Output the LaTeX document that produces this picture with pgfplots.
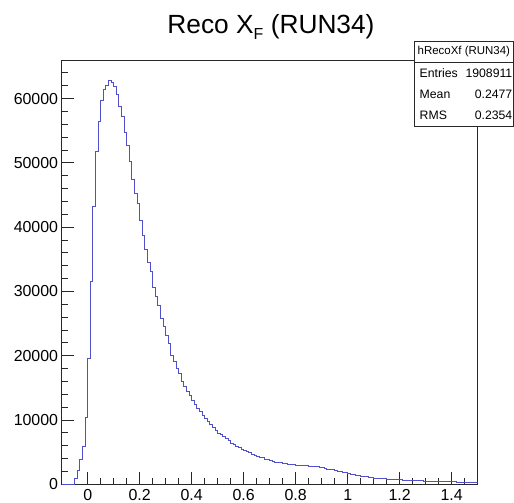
\documentclass[border=0pt]{standalone}
\usepackage{pgfplots}
\pgfplotsset{compat=1.18}
\usepackage{pgfplotstable}
\usepackage{fontspec}
\setmainfont{Liberation Sans}
\definecolor{histblue}{RGB}{80,80,205}
\definecolor{axgray}{RGB}{40,40,40}

\pgfplotstableread{
x y
-0.10 0
-0.09 0
-0.08 0
-0.07 0
-0.06 0
-0.05 900
-0.04 2100
-0.03 3900
-0.02 5950
-0.01 10450
0.00 19570
0.01 31570
0.02 43220
0.03 51760
0.04 56420
0.05 59680
0.06 61440
0.07 62110
0.08 62890
0.09 62470
0.10 61960
0.11 60710
0.12 58850
0.13 57190
0.14 54700
0.15 52640
0.16 50200
0.17 47450
0.18 45190
0.19 43740
0.20 41100
0.21 38710
0.22 36600
0.23 34580
0.24 33120
0.25 30700
0.26 29190
0.27 27800
0.28 25730
0.29 24490
0.30 23140
0.31 21850
0.32 20000
0.33 19070
0.34 18040
0.35 17260
0.36 16070
0.37 15180
0.38 14510
0.39 13780
0.40 13000
0.41 12380
0.42 11820
0.43 11350
0.44 10780
0.45 10200
0.46 9740
0.47 9330
0.48 8910
0.49 8440
0.50 7980
0.51 7710
0.52 7460
0.53 7090
0.54 6780
0.55 6420
0.56 6160
0.57 5960
0.58 5690
0.59 5450
0.60 5250
0.61 5070
0.62 4950
0.63 4710
0.64 4560
0.65 4400
0.66 4220
0.67 4120
0.68 3930
0.69 3800
0.70 3680
0.71 3600
0.72 3440
0.73 3400
0.74 3340
0.75 3260
0.76 3200
0.77 3120
0.78 3090
0.79 3040
0.80 3000
0.81 2990
0.82 2960
0.83 2930
0.84 2880
0.85 2790
0.86 2740
0.87 2820
0.88 2770
0.89 2650
0.90 2580
0.91 2400
0.92 2340
0.93 2330
0.94 2280
0.95 2100
0.96 2050
0.97 1980
0.98 1900
0.99 1820
1.00 1680
1.01 1600
1.02 1470
1.03 1420
1.04 1390
1.05 1220
1.06 1180
1.07 1150
1.08 1120
1.09 1080
1.10 960
1.11 940
1.12 920
1.13 890
1.14 870
1.15 800
1.16 780
1.17 770
1.18 750
1.19 720
1.20 690
1.21 670
1.22 660
1.23 640
1.24 610
1.25 580
1.26 570
1.27 560
1.28 545
1.29 520
1.30 490
1.31 480
1.32 470
1.33 460
1.34 445
1.35 425
1.36 410
1.37 400
1.38 400
1.39 390
1.40 385
1.41 380
1.42 365
1.43 355
1.44 345
1.45 325
1.46 320
1.47 310
1.48 305
1.49 300
1.50 300
}\histdata

\begin{document}
\begin{tikzpicture}
\path[use as bounding box] (0,0) rectangle (514bp,503bp);
\begin{axis}[
  at={(61.7bp,18.7bp)}, anchor=south west,
  scale only axis,
  width=416bp, height=424.3bp,
  xmin=-0.1, xmax=1.5, ymin=0, ymax=66000,
  xtick={0,0.2,0.4,0.6,0.8,1,1.2,1.4},
  minor xtick={-0.05,0.05,0.1,0.15,0.25,0.3,0.35,0.45,0.5,0.55,0.65,0.7,0.75,0.85,0.9,0.95,1.05,1.1,1.15,1.25,1.3,1.35,1.45},
  ytick={0,10000,20000,30000,40000,50000,60000},
  minor ytick={2000,4000,6000,8000,12000,14000,16000,18000,22000,24000,26000,28000,32000,34000,36000,38000,42000,44000,46000,48000,52000,54000,56000,58000,62000,64000},
  scaled y ticks=false,
  scaled x ticks=false,
  /pgf/number format/set thousands separator={},
  /pgf/number format/assume math mode=true,
  tick align=inside,
  xtick pos=bottom, ytick pos=left,
  major tick length=12bp, minor tick length=6bp,
  axis line style={axgray, line width=0.8bp},
  every tick/.style={axgray, line width=0.8bp},
  tick label style={font=\fontsize{16}{18}\selectfont, inner sep=0pt},
  xticklabel style={yshift=-5bp, text depth=0pt},
  yticklabel style={xshift=-3.4bp},
  clip=true,
]
\addplot[const plot, histblue, line width=0.85bp] table[x=x,y=y] {\histdata};
\end{axis}
% title
\node[anchor=base, font=\fontsize{26.4}{30}\selectfont] at (271bp,469.7bp)
  {Reco X\raisebox{-6bp}{\fontsize{16}{16}\selectfont F} (RUN34)};
% stats box
\draw[axgray, line width=0.7bp, fill=white] (414.3bp,377bp) rectangle (513.3bp,461.3bp);
\draw[axgray, line width=0.7bp] (414.3bp,440.3bp) -- (513.3bp,440.3bp);
\node[anchor=base, font=\fontsize{11.5}{13}\selectfont, inner sep=0pt] at (463.8bp,448bp) {hRecoXf (RUN34)};
\node[anchor=base west, font=\fontsize{12.3}{14}\selectfont, inner sep=0pt] at (419.5bp,425.5bp) {Entries};
\node[anchor=base east, font=\fontsize{12.3}{14}\selectfont, inner sep=0pt] at (512.5bp,425.5bp) {1908911};
\node[anchor=base west, font=\fontsize{12.3}{14}\selectfont, inner sep=0pt] at (419.5bp,404.5bp) {Mean};
\node[anchor=base east, font=\fontsize{12.3}{14}\selectfont, inner sep=0pt] at (512.5bp,404.5bp) {0.2477};
\node[anchor=base west, font=\fontsize{12.3}{14}\selectfont, inner sep=0pt] at (419.5bp,383.5bp) {RMS};
\node[anchor=base east, font=\fontsize{12.3}{14}\selectfont, inner sep=0pt] at (512.5bp,383.5bp) {0.2354};
\end{tikzpicture}
\end{document}
